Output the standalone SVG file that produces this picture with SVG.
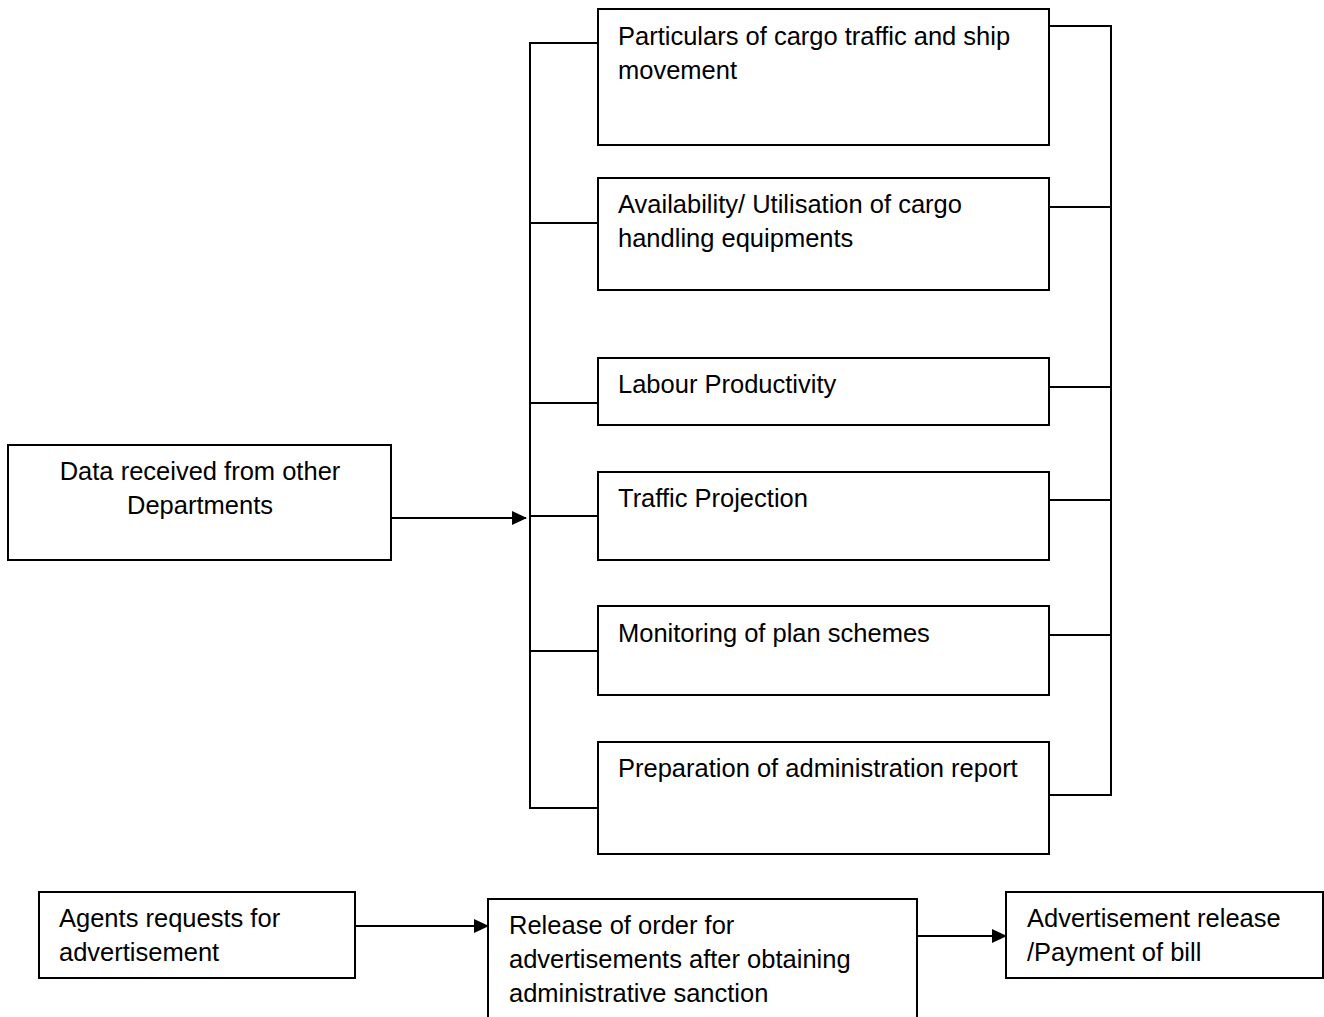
<svg xmlns="http://www.w3.org/2000/svg" width="1324" height="1017" viewBox="0 0 1324 1017">
<style>
.box{fill:#fff;stroke:#000;stroke-width:2}
.ln{fill:none;stroke:#000;stroke-width:2}
text{font-family:"Liberation Sans",Arial,sans-serif;font-size:25.5px;fill:#000}
</style>
<defs>
<marker id="ah" markerWidth="15" markerHeight="14" refX="14" refY="7" orient="auto" markerUnits="userSpaceOnUse">
<path d="M0,0 L15,7 L0,14 Z" fill="#000"/>
</marker>
</defs>
<rect width="1324" height="1017" fill="#fff"/>
<g id="connectors">
<path class="ln" d="M598,43 H530 V808 H598"/>
<path class="ln" d="M530,223 H598 M530,403 H598 M530,516 H598 M530,651 H598"/>
<path class="ln" d="M1049,26 H1111 V795 H1049"/>
<path class="ln" d="M1049,207 H1111 M1049,387 H1111 M1049,500 H1111 M1049,635 H1111"/>
<line class="ln" x1="391" y1="518" x2="526" y2="518" marker-end="url(#ah)"/>
<line class="ln" x1="355" y1="926" x2="488" y2="926" marker-end="url(#ah)"/>
<line class="ln" x1="917" y1="936" x2="1006" y2="936" marker-end="url(#ah)"/>
</g>
<g id="n1"><rect class="box" x="598" y="9" width="451" height="136"/>
<text x="618" y="45">Particulars of cargo traffic and ship</text><text x="618" y="79">movement</text></g>
<g id="n2"><rect class="box" x="598" y="178" width="451" height="112"/>
<text x="618" y="213">Availability/ Utilisation of cargo</text><text x="618" y="247">handling equipments</text></g>
<g id="n3"><rect class="box" x="598" y="358" width="451" height="67"/>
<text x="618" y="393">Labour Productivity</text></g>
<g id="n4"><rect class="box" x="598" y="472" width="451" height="88"/>
<text x="618" y="507">Traffic Projection</text></g>
<g id="n5"><rect class="box" x="598" y="606" width="451" height="89"/>
<text x="618" y="642">Monitoring of plan schemes</text></g>
<g id="n6"><rect class="box" x="598" y="742" width="451" height="112"/>
<text x="618" y="777">Preparation of administration report</text></g>
<g id="n7"><rect class="box" x="8" y="445" width="383" height="115"/>
<text x="200" y="480" text-anchor="middle">Data received from other</text><text x="200" y="514" text-anchor="middle">Departments</text></g>
<g id="n8"><rect class="box" x="39" y="892" width="316" height="86"/>
<text x="59" y="927">Agents requests for</text><text x="59" y="961">advertisement</text></g>
<g id="n9"><path class="box" d="M488,1018 V899 H917 V1018"/>
<text x="509" y="934">Release of order for</text><text x="509" y="968">advertisements after obtaining</text><text x="509" y="1002">administrative sanction</text></g>
<g id="n10"><rect class="box" x="1006" y="892" width="317" height="86"/>
<text x="1027" y="927">Advertisement release</text><text x="1027" y="961">/Payment of bill</text></g>
</svg>
